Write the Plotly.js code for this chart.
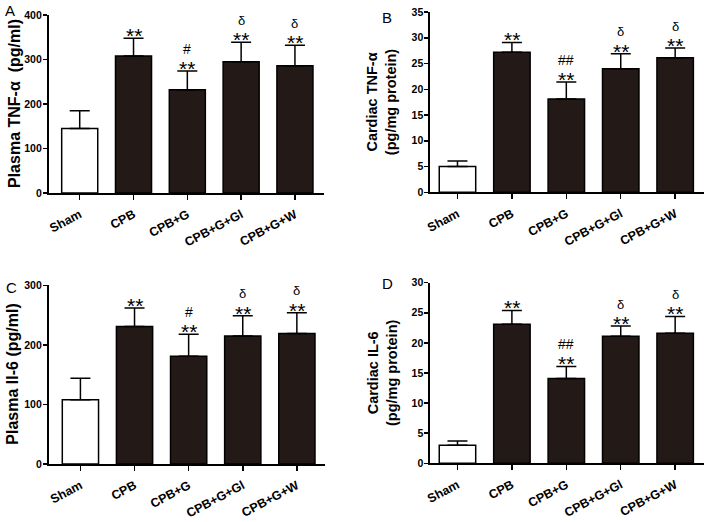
<!DOCTYPE html>
<html>
<head>
<meta charset="utf-8">
<script src="https://cdn.plot.ly/plotly-3.0.1.min.js"></script>
<style>html,body{margin:0;padding:0;background:#fff;}#chart{width:708px;height:522px;}</style>
</head>
<body>
<div id="chart"></div>
<script>
var categories = ['Sham', 'CPB', 'CPB+G', 'CPB+G+Gl', 'CPB+G+W'];

var plasmaTNF = [145, 308, 232, 295, 286];
var plasmaTNFErr = [40, 40, 42, 44, 46];
var cardiacTNF = [5, 27.2, 18.1, 24, 26.1];
var cardiacTNFErr = [1.1, 1.9, 3.3, 2.9, 1.9];
var plasmaIL6 = [108, 231, 181, 215, 219];
var plasmaIL6Err = [36, 31, 37, 34, 35];
var cardiacIL6 = [3.0, 23.1, 14.1, 21.1, 21.6];
var cardiacIL6Err = [0.7, 2.3, 2.0, 1.7, 2.8];

var starMarks = ['', '**', '**', '**', '**'];
var deltaMarks = ['', '', '', 'δ', 'δ'];
var hashA = ['', '', '#', '', ''];
var hashB = ['', '', '##', '', ''];
var hashC = ['', '', '#', '', ''];
var hashD = ['', '', '##', '', ''];

var yTitleA = 'Plasma TNF-α\u00a0 (pg/ml)';
var yTitleB = 'Cardiac TNF-α<br>(pg/mg protein)';
var yTitleC = 'Plasma Il-6 (pg/ml)';
var yTitleD = 'Cardiac IL-6<br>(pg/mg protein)';
var panelLetters = ['A', 'B', 'C', 'D'];

var DARK = '#231916';
var FONT = 'Liberation Sans, Arial, sans-serif';
var barColors = categories.map(function (c, i) { return i === 0 ? '#ffffff' : DARK; });

var panels = [
  {vals: plasmaTNF, err: plasmaTNFErr, hash: hashA, xa: 'x', ya: 'y', yr: [0, 400], dt: 100,
   xd: [48.5, 324], yd: [15, 193], xr: [-0.58, 4.54], title: yTitleA, tx: 14, tsize: 16, letter: 0, lx: 10, ly: 10},
  {vals: cardiacTNF, err: cardiacTNFErr, hash: hashB, xa: 'x2', ya: 'y2', yr: [0, 35], dt: 5,
   xd: [430, 704], yd: [12, 192.3], xr: [-0.505, 4.53], title: yTitleB, tx: 381, tsize: 14.5, letter: 1, lx: 387, ly: 17},
  {vals: plasmaIL6, err: plasmaIL6Err, hash: hashC, xa: 'x3', ya: 'y3', yr: [0, 300], dt: 100,
   xd: [48.5, 325], yd: [285.3, 464], xr: [-0.59, 4.52], title: yTitleC, tx: 13, tsize: 16, letter: 2, lx: 11, ly: 287},
  {vals: cardiacIL6, err: cardiacIL6Err, hash: hashD, xa: 'x4', ya: 'y4', yr: [0, 30], dt: 5,
   xd: [430, 704], yd: [282.7, 463.3], xr: [-0.505, 4.53], title: yTitleD, tx: 382, tsize: 14.5, letter: 3, lx: 388, ly: 283}
];

var W = 708, H = 522;
var data = [];
var layout = {
  width: W, height: H, margin: {l: 0, r: 0, t: 0, b: 0},
  paper_bgcolor: '#ffffff', plot_bgcolor: '#ffffff',
  showlegend: false, bargap: 0.33,
  font: {family: FONT, color: '#000'},
  annotations: []
};

panels.forEach(function (p, k) {
  data.push({
    type: 'bar', x: categories, y: p.vals, xaxis: p.xa, yaxis: p.ya,
    marker: {color: barColors, line: {color: '#000', width: 1.5}},
    error_y: {type: 'data', array: p.err, symmetric: false, arrayminus: p.err.map(function () { return 0; }),
              color: '#000', thickness: 1.5, width: 10},
    hoverinfo: 'x+y'
  });
  var xk = p.xa === 'x' ? 'xaxis' : 'xaxis' + p.xa.slice(1);
  var yk = p.ya === 'y' ? 'yaxis' : 'yaxis' + p.ya.slice(1);
  layout[xk] = {
    domain: [p.xd[0] / W, p.xd[1] / W], anchor: p.ya,
    type: 'category', categoryorder: 'array', categoryarray: categories,
    range: p.xr, showline: true, linecolor: '#000', linewidth: 1.6,
    ticks: 'outside', ticklen: 5, tickwidth: 1.5, tickcolor: '#000', ticklabelstandoff: 3,
    tickangle: -28, tickfont: {family: FONT, size: 12.5, color: '#000', weight: 'bold'},
    showgrid: false, zeroline: false, fixedrange: true
  };
  layout[yk] = {
    domain: [1 - p.yd[1] / H, 1 - p.yd[0] / H], anchor: p.xa,
    range: p.yr, dtick: p.dt, tick0: 0, showline: true, linecolor: '#000', linewidth: 1.6,
    ticks: 'outside', ticklen: 4, tickwidth: 1.5, tickcolor: '#000', ticklabelstandoff: -1,
    tickfont: {family: FONT, size: 10.5, color: '#000', weight: 'bold'},
    showgrid: false, zeroline: false, fixedrange: true
  };
  // y-axis title
  layout.annotations.push({
    xref: 'paper', yref: 'paper', x: p.tx / W, y: 1 - ((p.yd[0] + p.yd[1]) / 2) / H,
    xanchor: 'center', yanchor: 'middle', textangle: -90, showarrow: false,
    text: p.title, font: {family: FONT, size: p.tsize, color: '#000', weight: 'bold'}
  });
  // panel letter
  layout.annotations.push({
    xref: 'paper', yref: 'paper', x: p.lx / W, y: 1 - p.ly / H,
    xanchor: 'center', yanchor: 'middle', showarrow: false,
    text: panelLetters[p.letter], font: {family: FONT, size: 15, color: '#000'}
  });
  // significance marks
  categories.forEach(function (c, i) {
    var top = p.vals[i] + p.err[i];
    if (starMarks[i]) {
      layout.annotations.push({xref: p.xa, yref: p.ya, x: c, y: top, xanchor: 'center', yanchor: 'bottom',
        yshift: -10, borderpad: 0, showarrow: false, text: starMarks[i],
        font: {family: FONT, size: 21, color: '#000'}});
    }
    var sym = p.hash[i] || deltaMarks[i];
    if (sym) {
      layout.annotations.push({xref: p.xa, yref: p.ya, x: c, y: top, xanchor: 'center', yanchor: 'bottom',
        yshift: 13.5, borderpad: 0, showarrow: false, text: sym,
        font: {family: FONT, size: sym === 'δ' ? 13 : 14, color: '#000'}});
    }
  });
});

Plotly.newPlot('chart', data, layout, {displayModeBar: false, staticPlot: true});
</script>
</body>
</html>
